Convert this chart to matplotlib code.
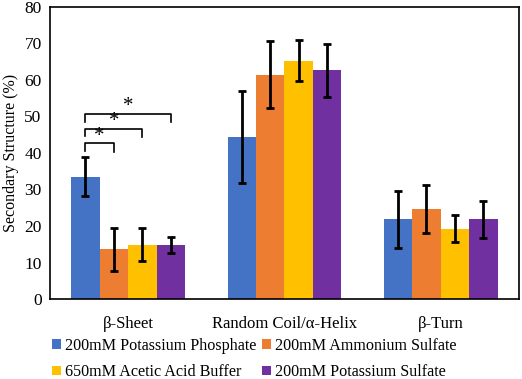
import numpy as np
import matplotlib.pyplot as plt

plt.rcParams['font.family'] = ['Liberation Serif', 'DejaVu Serif']

# 数据
categories = ['β-Sheet', 'Random Coil/α-Helix', 'β-Turn']
series = ['200mM Potassium Phosphate', '200mM Ammonium Sulfate',
          '650mM Acetic Acid Buffer', '200mM Potassium Sulfate']
colors = ['#4472C4', '#ED7D31', '#FFC000', '#7030A0']

phosphate = [33.5, 44.4, 21.8]
ammonium = [13.6, 61.4, 24.7]
acetic = [14.9, 65.3, 19.3]
k_sulfate = [14.8, 62.6, 21.8]

phosphate_err = [5.4, 12.6, 7.9]
ammonium_err = [5.8, 9.2, 6.6]
acetic_err = [4.5, 5.7, 3.6]
k_sulfate_err = [2.3, 7.3, 5.0]

values = [phosphate, ammonium, acetic, k_sulfate]
errors = [phosphate_err, ammonium_err, acetic_err, k_sulfate_err]

fig = plt.figure(figsize=(5.22, 3.79), dpi=100)
ax = fig.add_axes([0.0958, 0.211, 0.898, 0.771])

x = np.arange(len(categories))
w = 0.182
handles = []
for i, (vals, errs) in enumerate(zip(values, errors)):
    pos = x + (i - 1.5) * w
    b = ax.bar(pos, vals, w, color=colors[i], label=series[i], zorder=2)
    handles.append(b)
    ax.errorbar(pos, vals, yerr=errs, fmt='none', ecolor='black',
                elinewidth=2, capsize=3, capthick=2, zorder=3)

# 显著性标记
x0 = x[0] - 1.5 * w
brackets = [(1, 42.6), (2, 46.6), (3, 50.7)]
for j, yb in brackets:
    x1 = x[0] + (j - 1.5) * w
    ax.plot([x0, x0, x1, x1], [yb - 2.1, yb, yb, yb - 2.3],
            color='black', lw=1.2, zorder=4)
    ax.text((x0 + x1) / 2, yb - 0.6, '*', ha='center', va='bottom',
            fontsize=15)

ax.set_xlim(-0.5, 2.5)
ax.set_ylim(0, 80)
ax.set_yticks(range(0, 81, 10))
ax.set_xticks(x)
ax.set_xticklabels(categories, fontsize=12)
ax.tick_params(axis='both', length=0)
ax.tick_params(axis='x', pad=12)
ax.tick_params(axis='y', labelsize=12.5, pad=6)
ax.set_ylabel('Secondary Structure (%)', fontsize=11.5, labelpad=4)
for s in ax.spines.values():
    s.set_linewidth(1.2)

order = [0, 2, 1, 3]
ax.legend([handles[k] for k in order], [series[k] for k in order],
          loc='upper left', bbox_to_anchor=(-0.01, -0.11), ncol=2,
          frameon=False, fontsize=11.6, handlelength=0.55, handleheight=0.55,
          handletextpad=0.3, columnspacing=0.3, labelspacing=0.65,
          borderaxespad=0)

fig.savefig('out.png', dpi=100)
